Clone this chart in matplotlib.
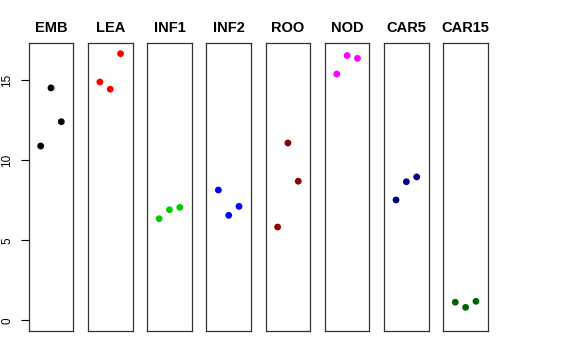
import matplotlib
matplotlib.use("Agg")
import matplotlib.pyplot as plt

plt.rcParams['font.family'] = ['Liberation Sans', 'DejaVu Sans']

tissues = ['EMB', 'LEA', 'INF1', 'INF2', 'ROO', 'NOD', 'CAR5', 'CAR15']
colors = ['black', 'red', '#00CD00', 'blue', '#8B0000', 'magenta', '#00008B', '#006400']
reps = [1, 2, 3]
values = [
    [10.89, 14.52, 12.41],
    [14.89, 14.44, 16.66],
    [6.35, 6.91, 7.06],
    [8.14, 6.56, 7.12],
    [5.83, 11.08, 8.69],
    [15.39, 16.54, 16.37],
    [7.52, 8.66, 8.96],
    [1.13, 0.81, 1.19],
]

W, H = 576, 360
fig = plt.figure(figsize=(W / 100, H / 100), dpi=100)

ymax = max(max(v) for v in values)
pad = 0.04 * ymax

for i, (name, col, vals) in enumerate(zip(tissues, colors, values)):
    left = 28.7 + i * 59.23
    ax = fig.add_axes([left / W, 29 / H, 44.6 / W, 288 / H])
    ax.scatter(reps, vals, s=24, color=col, edgecolors='none', zorder=3)
    ax.set_xlim(0 - 0.16, 4 + 0.16)
    ax.set_ylim(0 - pad, ymax + pad)
    ax.set_xticks([])
    ax.set_title(name, fontsize=10.5, fontweight='bold', pad=8)
    for s in ax.spines.values():
        s.set_linewidth(0.9)
        s.set_color('#333333')
    if i == 0:
        ax.set_yticks([0, 5, 10, 15])
        ax.tick_params(axis='y', length=6, width=0.8, labelsize=8.5, pad=5)
        for lab in ax.get_yticklabels():
            lab.set_rotation(90)
            lab.set_va('center')
    else:
        ax.set_yticks([])

fig.savefig('out.png', dpi=100)
